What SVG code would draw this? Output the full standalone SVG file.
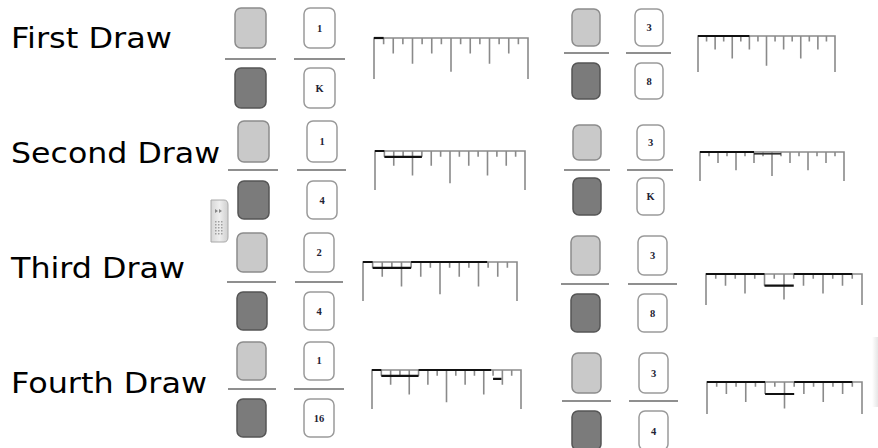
<svg xmlns="http://www.w3.org/2000/svg" xmlns:xlink="http://www.w3.org/1999/xlink" width="878" height="448" viewBox="0 0 878 448">
<style>
.lbl{font-family:"DejaVu Sans","Verdana",sans-serif;font-size:29px;fill:#000}
.lt{fill:#c9c9c9;stroke:#8c8c8c;stroke-width:1.5}
.dk{fill:#7b7b7b;stroke:#555;stroke-width:1.5}
.nc{fill:#fff;stroke:#9a9a9a;stroke-width:1.5}
.fl{stroke:#8f8f8f;stroke-width:2}
.num{font-family:"Liberation Serif","Times New Roman",serif;font-size:10.5px;font-weight:bold;fill:#223;text-anchor:middle}
.rl{fill:none;stroke:#8a8a8a;stroke-width:1.6;vector-effect:non-scaling-stroke}
.bar{fill:none;stroke:#111;stroke-width:2.2;vector-effect:non-scaling-stroke}
.bar2{fill:none;stroke:#333;stroke-width:1.6;vector-effect:non-scaling-stroke}
</style>
<defs>
<g id="ruler">
<path class="rl" d="M0,40V0H160V40"/>
<path class="rl" d="M10,0v6M20,0v15M30,0v6M40,0v25M50,0v6M60,0v15M70,0v6M80,0v33M90,0v6M100,0v15M110,0v6M120,0v25M130,0v6M140,0v15M150,0v6"/>
</g>
<linearGradient id="wg" x1="0" y1="0" x2="1" y2="0">
<stop offset="0" stop-color="#d6d6d6"/><stop offset="0.5" stop-color="#eeeeee"/><stop offset="1" stop-color="#cfcfcf"/>
</linearGradient>
<linearGradient id="eg" x1="0" y1="0" x2="1" y2="0">
<stop offset="0" stop-color="#ffffff"/><stop offset="1" stop-color="#e6e6e6"/>
</linearGradient>
</defs>

<g id="labels">
<text class="lbl" x="11" y="48" textLength="161" lengthAdjust="spacingAndGlyphs">First Draw</text>
<text class="lbl" x="11" y="163" textLength="209" lengthAdjust="spacingAndGlyphs">Second Draw</text>
<text class="lbl" x="11" y="278" textLength="174" lengthAdjust="spacingAndGlyphs">Third Draw</text>
<text class="lbl" x="11" y="393" textLength="196" lengthAdjust="spacingAndGlyphs">Fourth Draw</text>
</g>

<!-- Row 1 left -->
<g id="r1l">
<rect class="lt" x="235" y="8" width="31" height="40" rx="6"/>
<line class="fl" x1="225" y1="59" x2="276" y2="59"/>
<rect class="dk" x="235" y="68" width="31" height="40" rx="6"/>
<rect class="nc" x="304" y="8" width="31" height="40" rx="6"/>
<text class="num" x="319.5" y="31.5">1</text>
<line class="fl" x1="294" y1="59" x2="345" y2="59"/>
<rect class="nc" x="304" y="68" width="31" height="40" rx="6"/>
<text class="num" x="319.5" y="91.5">K</text>
<g transform="translate(374,38) scale(0.9625,1.025)">
<use xlink:href="#ruler"/>
<path class="bar" d="M0,0H10"/>
</g>
</g>

<!-- Row 1 right -->
<g id="r1r">
<rect class="lt" x="572" y="9" width="28" height="37" rx="6"/>
<line class="fl" x1="564" y1="53" x2="609" y2="53"/>
<rect class="dk" x="572" y="63" width="28" height="36" rx="6"/>
<rect class="nc" x="635" y="9" width="28" height="37" rx="6"/>
<text class="num" x="649" y="31">3</text>
<line class="fl" x1="626" y1="53" x2="671" y2="53"/>
<rect class="nc" x="635" y="63" width="28" height="36" rx="6"/>
<text class="num" x="649" y="85">8</text>
<g transform="translate(698,36) scale(0.85625,0.9)">
<use xlink:href="#ruler"/>
<path class="bar" d="M0,0H60"/>
</g>
</g>

<!-- Row 2 left -->
<g id="r2l">
<rect class="lt" x="238" y="121" width="31" height="41" rx="6"/>
<line class="fl" x1="228" y1="170" x2="278" y2="170"/>
<rect class="dk" x="238" y="181" width="31" height="38" rx="6"/>
<rect class="nc" x="307" y="121" width="30" height="41" rx="6"/>
<text class="num" x="322" y="145">1</text>
<line class="fl" x1="297" y1="170" x2="346" y2="170"/>
<rect class="nc" x="307" y="181" width="30" height="38" rx="6"/>
<text class="num" x="322" y="204">4</text>
<g transform="translate(375,151) scale(0.9375,0.975)">
<use xlink:href="#ruler"/>
<path class="bar" d="M0,0H10M10,6H50"/>
</g>
</g>

<!-- Row 2 right -->
<g id="r2r">
<rect class="lt" x="573" y="125" width="28" height="35" rx="6"/>
<line class="fl" x1="564" y1="170" x2="610" y2="170"/>
<rect class="dk" x="573" y="178" width="28" height="37" rx="6"/>
<rect class="nc" x="637" y="125" width="27" height="35" rx="6"/>
<text class="num" x="650.5" y="146">3</text>
<line class="fl" x1="627" y1="170" x2="673" y2="170"/>
<rect class="nc" x="637" y="178" width="27" height="37" rx="6"/>
<text class="num" x="650.5" y="200">K</text>
<g transform="translate(700,152) scale(0.9,0.725)">
<use xlink:href="#ruler"/>
<path class="bar" d="M0,0H60"/>
<path class="bar2" d="M60,2.5H90"/>
</g>
</g>

<!-- Row 3 left -->
<g id="r3l">
<rect class="lt" x="237" y="233" width="30" height="39" rx="6"/>
<line class="fl" x1="227" y1="282" x2="276" y2="282"/>
<rect class="dk" x="237" y="292" width="30" height="38" rx="6"/>
<rect class="nc" x="304" y="233" width="30" height="39" rx="6"/>
<text class="num" x="319" y="256">2</text>
<line class="fl" x1="295" y1="282" x2="343" y2="282"/>
<rect class="nc" x="304" y="292" width="30" height="38" rx="6"/>
<text class="num" x="319" y="315">4</text>
<g transform="translate(363,262) scale(0.9625,0.975)">
<use xlink:href="#ruler"/>
<path class="bar" d="M0,0H10M10,6H50M50,0H129"/>
</g>
</g>

<!-- Row 3 right -->
<g id="r3r">
<rect class="lt" x="571" y="236" width="29" height="39" rx="6"/>
<line class="fl" x1="561" y1="284" x2="609" y2="284"/>
<rect class="dk" x="571" y="294" width="29" height="38" rx="6"/>
<rect class="nc" x="638" y="236" width="29" height="39" rx="6"/>
<text class="num" x="652.5" y="259">3</text>
<line class="fl" x1="628" y1="284" x2="677" y2="284"/>
<rect class="nc" x="638" y="294" width="29" height="38" rx="6"/>
<text class="num" x="652.5" y="317">8</text>
<g transform="translate(706,274) scale(0.975,0.775)">
<use xlink:href="#ruler"/>
<path class="bar" d="M0,0H60M60,15H90M90,0H150"/>
</g>
</g>

<!-- Row 4 left -->
<g id="r4l">
<rect class="lt" x="237" y="342" width="29" height="38" rx="6"/>
<line class="fl" x1="228" y1="389" x2="276" y2="389"/>
<rect class="dk" x="237" y="399" width="29" height="38" rx="6"/>
<rect class="nc" x="304" y="342" width="30" height="38" rx="6"/>
<text class="num" x="319" y="364">1</text>
<line class="fl" x1="294" y1="389" x2="344" y2="389"/>
<rect class="nc" x="304" y="399" width="30" height="38" rx="6"/>
<text class="num" x="319" y="422">16</text>
<g transform="translate(372,370) scale(0.93125,0.975)">
<use xlink:href="#ruler"/>
<path class="bar" d="M0,0H10M10,6H50M50,0H128M130,9H139"/>
</g>
</g>

<!-- Row 4 right -->
<g id="r4r">
<rect class="lt" x="572" y="353" width="29" height="40" rx="6"/>
<line class="fl" x1="562" y1="401" x2="611" y2="401"/>
<rect class="dk" x="572" y="411" width="29" height="39" rx="6"/>
<rect class="nc" x="639" y="353" width="29" height="40" rx="6"/>
<text class="num" x="653.5" y="377">3</text>
<line class="fl" x1="629" y1="401" x2="678" y2="401"/>
<rect class="nc" x="639" y="411" width="29" height="39" rx="6"/>
<text class="num" x="653.5" y="435">4</text>
<g transform="translate(707,382) scale(0.96875,0.8)">
<use xlink:href="#ruler"/>
<path class="bar" d="M0,0H60M60,15H90M90,0H150"/>
</g>
</g>

<!-- side widget -->
<g id="widget">
<path d="M211,200H224Q228,200 228,205V237Q228,242 224,242H211Z" fill="url(#wg)" stroke="#a8a8a8" stroke-width="1"/>
<path d="M215,209l3,2l-3,2z M219,209l3,2l-3,2z" fill="#888"/>
<g fill="#a0a0a0">
<rect x="215" y="221" width="1.5" height="1.5"/><rect x="218" y="221" width="1.5" height="1.5"/><rect x="221" y="221" width="1.5" height="1.5"/>
<rect x="215" y="224" width="1.5" height="1.5"/><rect x="218" y="224" width="1.5" height="1.5"/><rect x="221" y="224" width="1.5" height="1.5"/>
<rect x="215" y="227" width="1.5" height="1.5"/><rect x="218" y="227" width="1.5" height="1.5"/><rect x="221" y="227" width="1.5" height="1.5"/>
<rect x="215" y="230" width="1.5" height="1.5"/><rect x="218" y="230" width="1.5" height="1.5"/><rect x="221" y="230" width="1.5" height="1.5"/>
<rect x="215" y="233" width="1.5" height="1.5"/><rect x="218" y="233" width="1.5" height="1.5"/><rect x="221" y="233" width="1.5" height="1.5"/>
</g>
</g>

<rect x="872" y="337" width="6" height="70" fill="url(#eg)"/>
</svg>
